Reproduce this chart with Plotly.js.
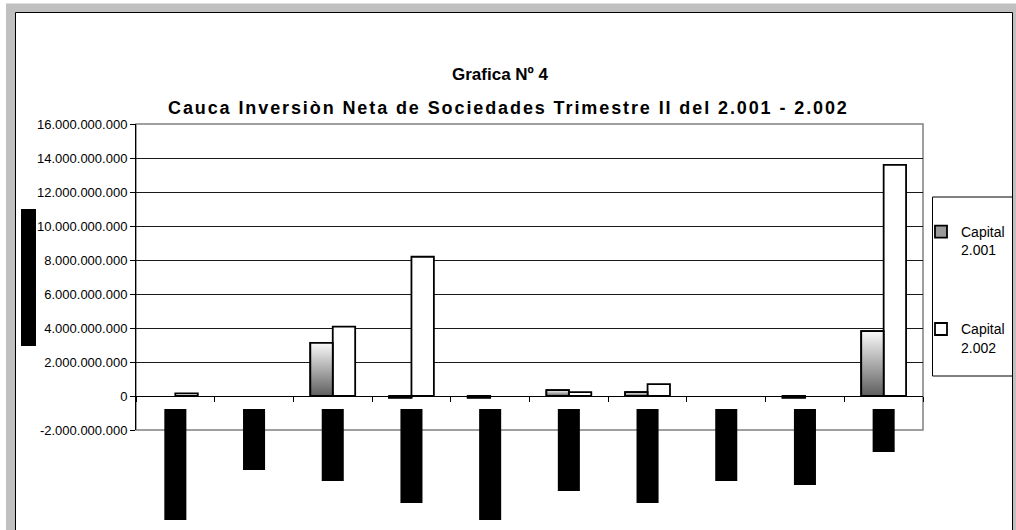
<!DOCTYPE html>
<html>
<head>
<meta charset="utf-8">
<script src="https://cdn.plot.ly/plotly-3.0.1.min.js"></script>
<style>html,body{margin:0;padding:0;background:#fff;overflow:hidden;}#chart{width:1016px;height:530px;}</style>
</head>
<body>
<div id="chart"></div>
<script>
// ---- data ----
const categoryIndex = [0, 1, 2, 3, 4, 5, 6, 7, 8, 9];
const capital2001 = [0, 0, 3130000000, -100000000, -100000000, 340000000, 230000000, 0, -100000000, 3820000000];
const capital2002 = [150000000, 0, 4080000000, 8190000000, 0, 230000000, 700000000, 0, 0, 13590000000];
const seriesNames = ['Capital<br>2.001', 'Capital<br>2.002'];
const yTickVals = [-2000000000, 0, 2000000000, 4000000000, 6000000000, 8000000000, 10000000000, 12000000000, 14000000000, 16000000000];
const yTickText = ['-2.000.000.000', '0', '2.000.000.000', '4.000.000.000', '6.000.000.000', '8.000.000.000', '10.000.000.000', '12.000.000.000', '14.000.000.000', '16.000.000.000'];
const titleLine1 = 'Grafica Nº 4';
const titleLine2 = 'Cauca Inversiòn Neta de Sociedades Trimestre II del 2.001 - 2.002';

// ---- layout helpers (pixel -> paper) ----
const W = 1016, H = 530;
const M = {l: 136, r: 93, t: 124, b: 100, autoexpand: false};
const PW = W - M.l - M.r, PH = H - M.t - M.b;
const px = p => (p - M.l) / PW;
const py = p => (H - M.b - p) / PH;
const BW = 0.285;           // bar width in category units
const Y0 = -2000000000, Y1 = 16000000000;

// depth (pixel bottom) of the unreadable rotated category labels (rendered as black boxes)
const labelBoxBottom = [520, 470, 481, 503, 520, 491, 503, 481, 485, 452];

const xc = categoryIndex.map(i => i + 0.5);
const nz = arr => arr.map(v => (v === 0 ? null : v));
const FONT = 'Liberation Sans, Arial, sans-serif';
const spaced = (t, ls) => '<span style="letter-spacing:' + ls + 'px">' + t + '</span>';

const traces = [
  {type: 'bar', name: seriesNames[0], x: xc, y: nz(capital2001), width: BW, offset: -BW,
   marker: {color: '#9a9a9a', line: {color: '#000', width: 1.8}}, legendgroup: 'a', hoverinfo: 'skip'},
  {type: 'bar', name: seriesNames[1], x: xc, y: nz(capital2002), width: BW, offset: 0,
   marker: {color: '#ffffff', line: {color: '#000', width: 1.8}}, legendgroup: 'b', hoverinfo: 'skip'}
];
// gradient fill overlay for 2001 bars, built from the same data
capital2001.forEach((v, i) => {
  if (v === 0) return;
  const x0 = xc[i] - BW, x1 = xc[i];
  traces.push({type: 'scatter', mode: 'lines', x: [x0, x1, x1, x0, x0], y: [0, 0, v, v, 0],
    fill: 'toself', line: {color: '#000', width: 1.8},
    fillgradient: {type: 'vertical', colorscale: [[0, '#5e5e5e'], [1, '#fafafa']]},
    showlegend: false, hoverinfo: 'skip'});
});

const shapes = [
  // outer grey frame and white chart area
  {type: 'rect', xref: 'paper', yref: 'paper', x0: px(6), x1: px(1016), y0: py(3.5), y1: py(530),
   fillcolor: '#c0c0c0', line: {width: 0}, layer: 'below'},
  {type: 'rect', xref: 'paper', yref: 'paper', x0: px(15.5), x1: px(1012.5), y0: py(12.5), y1: py(540),
   fillcolor: '#ffffff', line: {color: '#000', width: 1}, layer: 'below'},
  // plot area border
  {type: 'rect', xref: 'paper', yref: 'paper', x0: 0, x1: 1, y0: 0, y1: 1,
   fillcolor: 'rgba(0,0,0,0)', line: {color: '#808080', width: 1.5}, layer: 'below'},
  // legend box
  {type: 'rect', xref: 'paper', yref: 'paper', x0: px(932.5), x1: px(1012.5), y0: py(197), y1: py(376),
   fillcolor: '#ffffff', line: {color: '#000', width: 1}, layer: 'below'},
  // y-axis title (rendered as a black box in the reference)
  {type: 'rect', xref: 'paper', yref: 'paper', x0: px(21), x1: px(36), y0: py(209), y1: py(346),
   fillcolor: '#000', line: {width: 0}, layer: 'above'}
];
labelBoxBottom.forEach((b, i) => {
  shapes.push({type: 'rect', xref: 'x', yref: 'paper', x0: xc[i] - 0.14, x1: xc[i] + 0.14,
    y0: py(409), y1: py(b), fillcolor: '#000', line: {width: 0}, layer: 'above'});
});

const layout = {
  width: W, height: H,
  margin: M,
  paper_bgcolor: '#ffffff', plot_bgcolor: '#ffffff',
  font: {family: FONT, color: '#000'},
  barmode: 'overlay',
  title: {text: titleLine1, font: {family: FONT, size: 17, weight: 'bold', color: '#000'},
    xref: 'paper', x: px(500), xanchor: 'center', yref: 'container', y: 1 - 74 / H, yanchor: 'middle'},
  annotations: [
    {text: spaced(titleLine2, 1.9), xref: 'paper', yref: 'paper', x: px(508), y: py(108), xanchor: 'center', yanchor: 'middle',
     showarrow: false, font: {family: FONT, size: 18, weight: 'bold', color: '#000'}}
  ],
  xaxis: {type: 'linear', range: [0, 10], anchor: 'free', position: (0 - Y0) / (Y1 - Y0),
    showgrid: false, zeroline: false, showline: true, linecolor: '#000', linewidth: 1,
    ticks: 'outside', ticklen: 5, tickcolor: '#000', tickwidth: 1,
    tickvals: [0, 1, 2, 3, 4, 5, 6, 7, 8, 9, 10], showticklabels: false, fixedrange: true},
  yaxis: {range: [Y0, Y1], tickvals: yTickVals, ticktext: yTickText,
    showgrid: true, gridcolor: '#1a1a1a', gridwidth: 1, zeroline: false,
    showline: true, linecolor: '#000', linewidth: 1, ticks: 'outside', ticklen: 5, tickcolor: '#000',
    tickfont: {family: FONT, size: 13, color: '#000'}, fixedrange: true},
  showlegend: true,
  legend: {xref: 'paper', yref: 'paper', x: px(921), y: py(216), xanchor: 'left', yanchor: 'top',
    bgcolor: 'rgba(0,0,0,0)', borderwidth: 0, traceorder: 'grouped', tracegroupgap: 58, valign: 'top',
    font: {family: FONT, size: 14, color: '#000'}, itemclick: false, itemdoubleclick: false},
  shapes: shapes
};

Plotly.newPlot('chart', traces, layout, {displayModeBar: false, staticPlot: true});
</script>
</body>
</html>
